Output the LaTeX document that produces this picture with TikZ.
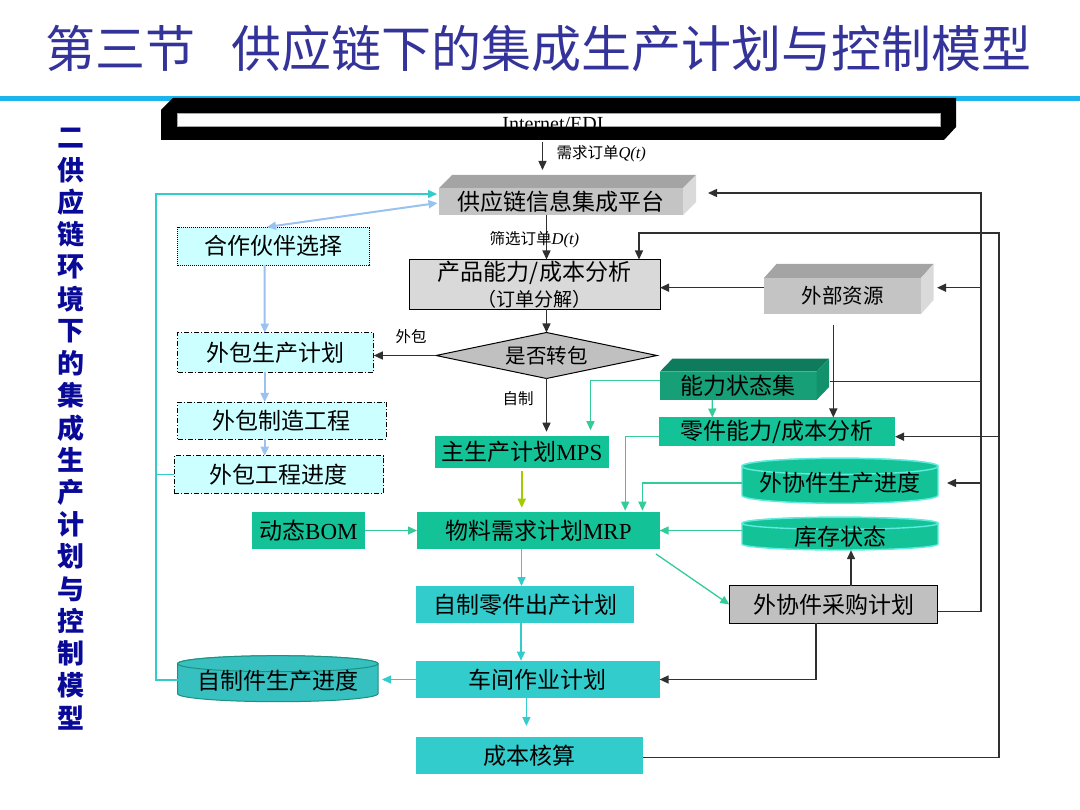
\documentclass[tikz,border=0pt]{standalone}
\usepackage{fontspec}
\setmainfont{Liberation Serif}
\newfontfamily\cjk{Noto Sans CJK SC}
\usetikzlibrary{arrows.meta,shapes.geometric,calc}
\definecolor{titleblue}{HTML}{333399}
\definecolor{sideblue}{HTML}{0A0A99}
\definecolor{topline}{HTML}{1CB4EC}
\definecolor{grnbox}{HTML}{14C298}
\definecolor{turq}{HTML}{33CCCC}
\definecolor{ltcyan}{HTML}{CCFFFF}
\definecolor{grnline}{HTML}{33CC99}
\definecolor{cyanline}{HTML}{33CCCC}
\definecolor{ltblue}{HTML}{99C2F0}
\definecolor{ygreen}{HTML}{A0CC00}
\definecolor{dkline}{HTML}{303030}
\definecolor{gfront}{HTML}{C4C4C4}
\definecolor{gtop}{HTML}{A4A4A4}
\definecolor{gside}{HTML}{DADADA}
\definecolor{gcap}{HTML}{D9D9D9}
\definecolor{gdia}{HTML}{C0C0C0}
\definecolor{csfront}{HTML}{17A077}
\definecolor{cstop}{HTML}{0E7C5C}
\definecolor{csside}{HTML}{13906C}
\definecolor{glow}{HTML}{5CEBDC}
\definecolor{spsfill}{HTML}{36C0C0}
\definecolor{spsedge}{HTML}{1F8F80}
\newcommand\drumshape[6]{%
  \path[#6] (#1,{#2+#5}) -- (#1,{#4-#5})
    arc[start angle=180,end angle=0,x radius={(#3-#1)/2},y radius=#5]
    -- (#3,{#2+#5})
    arc[start angle=0,end angle=-180,x radius={(#3-#1)/2},y radius=#5] -- cycle;
  \path[#6] ({(#1+#3)/2},{#2+#5}) ellipse[x radius={(#3-#1)/2},y radius=#5];
}
\begin{document}
\begin{tikzpicture}[x=1pt,y=-1pt,
  every node/.style={inner sep=0pt,outer sep=0pt},
  cj/.style={font=\cjk\fontsize{23}{26}\selectfont},
  lab/.style={font=\cjk\fontsize{15.5}{17}\selectfont},
  tip/.style={-{Triangle[length=9pt,width=8pt]}},
  blk/.style={draw=dkline,line width=1.4pt},
  grn/.style={draw=grnline,line width=1.3pt},
  cyn/.style={draw=cyanline,line width=1.3pt},
  tq/.style={draw=turq,line width=1.3pt},
  ygl/.style={draw=ygreen,line width=1.4pt},
  lbl/.style={draw=ltblue,line width=2pt},
  outbox/.style={cj,fill=ltcyan,draw=black,line width=0.9pt,dash pattern=on 5pt off 2pt on 1pt off 2pt},
  gbox/.style={cj,fill=grnbox},
  tbox/.style={cj,fill=turq}
]
\fill[white] (0,0) rectangle (1080,810);
\useasboundingbox (0,0) rectangle (1080,810);

% title
\node[font=\cjk\fontsize{50}{50}\selectfont,text=titleblue] (title) at (538.5,48) {第三节\hspace{36pt}供应链下的集成生产计划与控制模型};
\fill[topline] (0,96) rectangle (1080,101);

% side title
\foreach \c [count=\i from 0] in {二,供,应,链,环,境,下,的,集,成,生,产,计,划,与,控,制,模,型}
  \node[font=\cjk\bfseries\fontsize{27}{27}\selectfont,text=sideblue] (v\i) at (71,{138+32.2*\i}) {\c};

% Internet/EDI bar
\fill[black] (161,110) -- (173,98) -- (956,98) -- (956,127) -- (944,140) -- (161,140) -- cycle;
\path[fill=white,draw=gray!70,line width=0.6pt] (177,113) rectangle (940,126);
\node[anchor=base,font=\fontsize{20}{20}\selectfont] (net) at (553,131) {Internet/EDI};

% platform (3D)
\node[cj,fill=gfront,minimum width=244pt,minimum height=27pt] (plat) at (561,201.5) {供应链信息集成平台};
\fill[gtop] (plat.north west) -- ++(13,-13) -- ([shift={(13,-13)}]plat.north east) -- (plat.north east) -- cycle;
\fill[gside] (plat.north east) -- ++(13,-13) -- ([shift={(13,-13)}]plat.south east) -- (plat.south east) -- cycle;

% product capacity
\node[cj,draw=black,line width=1pt,fill=gcap,minimum width=251pt,minimum height=50pt,align=center] (cap) at (534.5,284.5)
  {产品能力/成本分析\\{\fontsize{19}{20}\selectfont （订单分解）}};

% external resources (3D)
\node[font=\cjk\fontsize{20.5}{22}\selectfont,fill=gfront,minimum width=157pt,minimum height=36pt] (ext) at (842.5,296) {外部资源};
\fill[gtop] (ext.north west) -- ++(12.5,-14) -- ([shift={(12.5,-14)}]ext.north east) -- (ext.north east) -- cycle;
\fill[gside] (ext.north east) -- ++(12.5,-14) -- ([shift={(12.5,-14)}]ext.south east) -- (ext.south east) -- cycle;

% decision
\node[diamond,aspect=4.8,minimum width=221pt,minimum height=46pt,draw=black,line width=1pt,fill=gdia,
  font=\cjk\fontsize{20.5}{22}\selectfont] (dia) at (546.5,355.5) {是否转包};

% capacity state set (3D)
\node[cj,fill=csfront,minimum width=156.7pt,minimum height=28.3pt] (cs) at (738.3,385.8) {能力状态集};
\fill[cstop] (cs.north west) -- ++(12.5,-13) -- ([shift={(12.5,-13)}]cs.north east) -- (cs.north east) -- cycle;
\fill[csside] (cs.north east) -- ++(12.5,-13) -- ([shift={(12.5,-13)}]cs.south east) -- (cs.south east) -- cycle;

% green boxes
\node[gbox,minimum width=174.6pt,minimum height=32.5pt] (mps) at (521.8,452) {主生产计划{\rmfamily MPS}};
\node[gbox,minimum width=236pt,minimum height=29pt] (pc) at (777,432) {零件能力/成本分析};
\node[gbox,minimum width=113.6pt,minimum height=37.6pt] (bom) at (308.4,530.5) {动态{\rmfamily BOM}};
\node[gbox,minimum width=242.6pt,minimum height=37.6pt] (mrp) at (538.3,530.5) {物料需求计划{\rmfamily MRP}};

% cylinders
\drumshape{742}{458.3}{938}{503.3}{8}{fill=grnbox,draw=glow,line width=1.4pt}
\node[cj,minimum width=196pt,minimum height=36pt] (ops) at (840,483) {外协件生产进度};
\drumshape{742}{517.3}{938}{550}{6}{fill=grnbox,draw=glow,line width=1.4pt}
\node[cj,minimum width=196pt,minimum height=27pt] (inv) at (840,536.7) {库存状态};
\drumshape{177.5}{655.7}{378}{701.7}{8}{fill=spsfill,draw=spsedge,line width=1pt}
\node[cj,minimum width=200.5pt,minimum height=36pt] (sps) at (277.75,681) {自制件生产进度};

% grey purchase box
\node[cj,draw=black,line width=1pt,fill=gdia,minimum width=208.4pt,minimum height=37.6pt] (pur) at (833.5,604.5) {外协件采购计划};

% turquoise boxes
\node[tbox,minimum width=218pt,minimum height=37.3pt] (self) at (525,604.7) {自制零件出产计划};
\node[tbox,minimum width=243.6pt,minimum height=37.6pt] (shop) at (537.8,679.5) {车间作业计划};
\node[tbox,minimum width=227pt,minimum height=37.6pt] (cost) at (529.5,755.5) {成本核算};

% outsourcing column
\node[cj,fill=ltcyan,draw=black,line width=0.8pt,dash pattern=on 1pt off 1pt,minimum width=192.2pt,minimum height=38pt] (part) at (273.6,246) {合作伙伴选择};
\node[outbox,minimum width=196.3pt,minimum height=39.3pt] (opp) at (275.65,352.35) {外包生产计划};
\node[outbox,minimum width=208.5pt,minimum height=37pt] (ome) at (281.75,420.5) {外包制造工程};
\node[outbox,minimum width=209.5pt,minimum height=37.6pt] (opr) at (278.75,474.5) {外包工程进度};

% ---------- connectors ----------
% internet -> platform
\draw[blk,tip] ($(net.base)+(-10.5,11)$) -- ($(plat.north)+(-18.5,-18)$);
\node[lab,anchor=west] (lQ) at (556.5,154) {需求订单{\rmfamily\itshape\fontsize{16.5}{17}\selectfont Q(t)}};

% platform -> cap
\draw[blk,tip] (dia.north |- plat.south) -- (dia.north |- cap.north);
\node[lab,anchor=west] (lD) at (489.6,240) {筛选订单{\rmfamily\itshape\fontsize{16.5}{17}\selectfont D(t)}};
% cap -> decision
\draw[blk,tip] (cap.south -| dia.north) -- (dia.north);
% decision -> outsourcing plan
\draw[blk,tip] (dia.west) -- (dia.west -| opp.east);
\node[lab] (lw) at (411,337) {外包};
% decision -> MPS
\draw[blk,tip] (dia.south) -- ($(dia.south |- mps.north)+(0,-4)$);
\node[lab] (lz) at (518,399) {自制};

% external -> cap, external -> part capacity
\draw[blk,tip] ($(ext.west)+(0,-8.3)$) -- ($(ext.west -| cap.east)+(0,-8.3)$);
\draw[blk,tip] ($(ext.south)+(-9.2,11)$) -- ($(ext.south |- pc.north)+(-9.2,0)$);

% right bus A
\coordinate (busAtop) at (981,193);
\coordinate (busAbot) at (981,611.7);
\draw[blk,tip] ($(pur.east)+(0,7.2)$) -- (busAbot) -- (busAtop) -- ($(plat.east)+(25,-8.5)$);
\draw[blk,tip] ($(ext.west -| busAtop)+(0,-8.3)$) -- ($(ext.east)+(16,-8.3)$);
\draw[blk,tip] (ops.east -| busAtop) -- ($(ops.east)+(9,0)$);
\draw[blk] ($(cs.east)+(13,-4.3)$) -- ($(cs.east -| busAtop)+(0,-4.3)$);

% right bus B
\coordinate (busBtop) at (999,233);
\coordinate (busBbot) at (999,757.7);
\draw[blk,tip] ($(cost.east)+(0,2.2)$) -- (busBbot) -- (busBtop) -- ($(cap.north east)+(-21,-26.5)$) -- ($(cap.north east)+(-21,0)$);
\draw[blk,tip] ($(pc.east -| busBtop)+(0,4.7)$) -- ($(pc.east)+(0,4.7)$);

% green connectors
\draw[grn,tip] ($(cs.west)+(0,-5)$) -| ($(mps.north east)+(-18.6,-5.5)$);
\draw[grn,tip] ($(cs.south west)+(52.3,0)$) -- ($(pc.north west)+(53.3,0)$);
\draw[grn,tip] ($(pc.west)+(0,4.7)$) -| ($(mrp.north east)+(-34.4,-1)$);
\draw[grn,tip] (ops.west) -| ($(mrp.north east)+(-17.2,-1)$);
\draw[grn,tip] (inv.west |- mrp.east) -- (mrp.east);
\draw[grn,tip] ($(mrp.south east)+(-3.6,4.7)$) -- (pur.west);
\draw[grn,tip] (bom.east) -- (mrp.west);
\draw[ygl,tip] ($(mps.south)+(0,3)$) -- ($(mps.south |- mrp.north)+(0,-4)$);

% turquoise flow
\draw[tq,tip] ($(mrp.south west)+(104.5,0)$) -- ($(self.north west)+(105.5,0)$);
\draw[tq,tip] ($(self.south west)+(105,0)$) -- ($(shop.north west)+(105,0)$);
\draw[tq,tip] (shop.west) -- ($(sps.east |- shop.west)+(4,0)$);
\draw[tq,tip] ($(shop.south west)+(110.4,0)$) -- ($(cost.north west)+(110.4,-10.7)$);

% purchase plan
\draw[blk,tip] ($(pur.north west)+(121.7,0)$) -- ($(inv.south west)+(109,0)$);
\draw[blk,tip] ($(pur.south west)+(86.7,0)$) |- (shop.east);

% left cyan bus
\coordinate (lbTop) at (156,194);
\coordinate (lbBot) at (156,680);
\draw[cyn,tip] ($(sps.west)+(0,-1)$) -- (lbBot) -- (lbTop) -- ($(plat.west)+(-2,-7.5)$);
\draw[cyn] (opr.west) -- (opr.west -| lbTop);

% light blue
\draw[lbl,{Triangle[length=9pt,width=8pt]}-{Triangle[length=9pt,width=8pt]}] ($(part.north west)+(89.5,0)$) -- ($(plat.west)+(-1.5,1.5)$);
\draw[lbl,tip] ($(part.south west)+(87.2,0)$) -- ($(opp.north west)+(87.2,0)$);
\draw[lbl,tip] ($(opp.south west)+(87.2,0)$) -- ($(ome.north west)+(87.2,0)$);
\draw[lbl,tip] ($(ome.south west)+(87.2,0)$) -- ($(opr.north west)+(90.7,0)$);
\end{tikzpicture}
\end{document}
